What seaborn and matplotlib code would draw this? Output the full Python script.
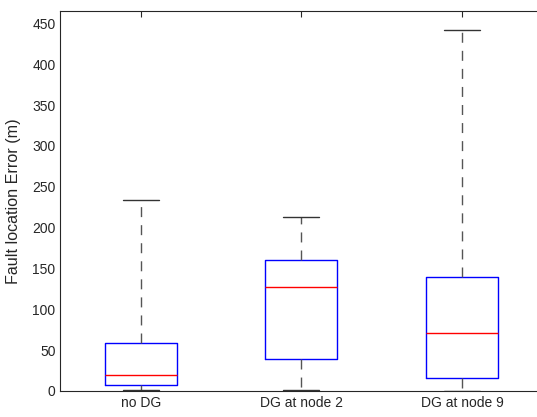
import numpy as np
import pandas as pd
import matplotlib
matplotlib.use("Agg")
import matplotlib.pyplot as plt
import seaborn as sns

categories = ["no DG", "DG at node 2", "DG at node 9"]
# five-number summaries per group: min, Q1, median, Q3, max
mins = [0.7, 0.7, 0.5]
q1s = [6.9, 39.2, 15.9]
medians = [20.0, 127.7, 71.0]
q3s = [58.8, 160.7, 139.5]
maxs = [234.2, 213.0, 442.3]
yticks = [0, 50, 100, 150, 200, 250, 300, 350, 400, 450]

rows = []
for c, a, b, m, d, e in zip(categories, mins, q1s, medians, q3s, maxs):
    for v in (a, b, m, d, e):
        rows.append({"group": c, "error": v})
df = pd.DataFrame(rows)

sns.set_theme(style="white")
plt.rcParams["font.family"] = ["Liberation Sans", "DejaVu Sans"]

fig = plt.figure(figsize=(5.37, 4.17), dpi=100)
ax = fig.add_axes([60.3 / 537, 26 / 417, 482.2 / 537, 379.6 / 417])

sns.boxplot(data=df, x="group", y="error", order=categories, ax=ax,
            whis=(0, 100), width=0.447, fill=False, showfliers=False,
            linewidth=1.0,
            boxprops=dict(color="blue", linewidth=1.0),
            medianprops=dict(color="red", linewidth=1.0),
            whiskerprops=dict(color="#555555", linestyle=(0, (7.2, 5.8)), linewidth=1.0),
            capprops=dict(color="#333333", linewidth=1.0))

ax.set_xlim(-0.5, 2.5)
ax.set_ylim(0, 464.7)
ax.set_yticks(yticks)
ax.set_xlabel("")
ax.set_ylabel("Fault location Error (m)", fontsize=11.6, color="#262626", labelpad=8)
ax.tick_params(axis="both", direction="in", length=4, width=0.8,
               colors="#262626", labelsize=10, top=True, right=True)
for s in ax.spines.values():
    s.set_color("#262626")
    s.set_linewidth(0.8)
    s.set_visible(True)

fig.savefig("out.png", dpi=100)
